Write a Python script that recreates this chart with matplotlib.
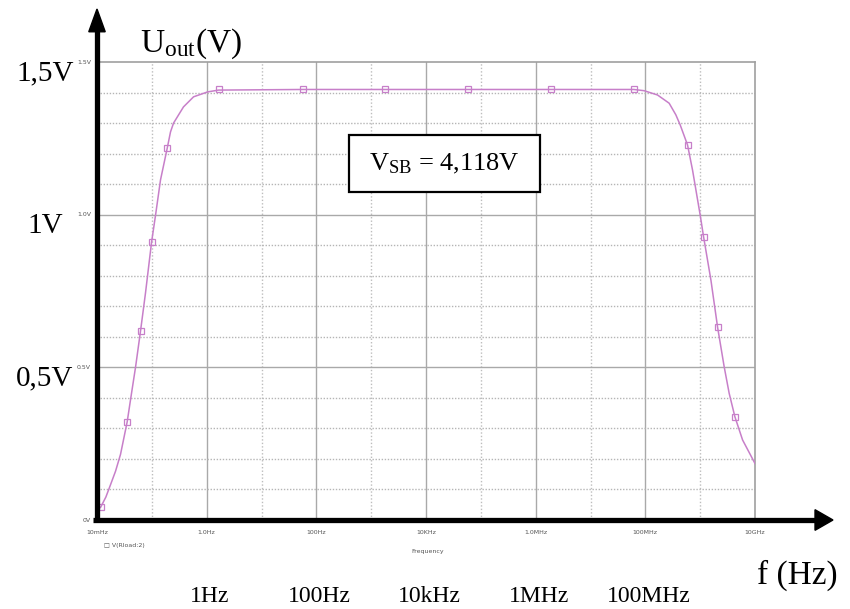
import matplotlib
matplotlib.use("Agg")
import matplotlib.pyplot as plt
from matplotlib.lines import Line2D
from matplotlib.patches import Polygon, Rectangle
from matplotlib.ticker import NullLocator

plt.rcParams["mathtext.fontset"] = "custom"
plt.rcParams["mathtext.rm"] = "Liberation Serif"
plt.rcParams["mathtext.it"] = "Liberation Serif:italic"

# --- data -------------------------------------------------------------------
freq_hz = [0.01, 0.01159, 0.0145, 0.0176, 0.0218, 0.02685, 0.03556, 0.0408,
           0.0505, 0.0622, 0.0767, 0.0989, 0.117, 0.144, 0.191, 0.219, 0.249,
           0.378, 0.577, 1.04, 1.648, 56.2, 1762, 57680, 1.888e6, 6.18e7,
           9.5e7, 1.667e8, 2.72e8, 3.6e8, 4.32e8, 5.89e8, 7.26e8, 1.0e9,
           1.153e9, 1.57e9, 2.08e9, 2.74e9, 3.38e9, 4.30e9, 5.94e9, 1.0e10]
u_out = [0.035, 0.041, 0.075, 0.115, 0.16, 0.215, 0.322, 0.393,
         0.501, 0.619, 0.744, 0.91, 0.999, 1.114, 1.218, 1.271, 1.300,
         1.353, 1.386, 1.402, 1.408, 1.41, 1.41, 1.41, 1.41, 1.41,
         1.406, 1.392, 1.365, 1.327, 1.294, 1.228, 1.146, 0.999,
         0.928, 0.786, 0.631, 0.502, 0.415, 0.338, 0.262, 0.185]

marker_freq = [0.01159, 0.03556, 0.0622, 0.0989, 0.191, 1.648, 56.2, 1762,
               57680, 1.888e6, 6.18e7, 5.89e8, 1.153e9, 2.08e9, 4.30e9]
marker_u = [0.041, 0.322, 0.619, 0.91, 1.218, 1.41, 1.41, 1.41,
            1.41, 1.41, 1.41, 1.228, 0.928, 0.631, 0.338]

grid_x_major = [1, 1e2, 1e4, 1e6, 1e8]
grid_x_minor = [1e-1, 1e1, 1e3, 1e5, 1e7, 1e9]
grid_y_major = [0.5, 1.0]
grid_y_minor = [0.1, 0.2, 0.3, 0.4, 0.6, 0.7, 0.8, 0.9, 1.1, 1.2, 1.3, 1.4]

pspice_xticks = [1e-2, 1, 1e2, 1e4, 1e6, 1e8, 1e10]
pspice_xlabels = ["10mHz", "1.0Hz", "100Hz", "10KHz", "1.0MHz", "100MHz", "10GHz"]
pspice_yticks = [0, 0.5, 1.0, 1.5]
pspice_ylabels = ["0V", "0.5V", "1.0V", "1.5V"]

big_yticks = [0.5, 1.0, 1.5]
big_ylabels = ["0,5V", "1V", "1,5V"]
big_xticks = [1, 1e2, 1e4, 1e6, 1e8]
big_xlabels = ["1Hz", "100Hz", "10kHz", "1MHz", "100MHz"]

# --- figure -----------------------------------------------------------------
W, H = 850, 609
fig = plt.figure(figsize=(W / 100, H / 100), dpi=100)
ax = fig.add_axes([97 / W, 1 - 520 / H, 658 / W, 458 / H])

trace = "#c77fc9"
ax.plot(freq_hz, u_out, color=trace, lw=1.1, zorder=3)
ax.plot(marker_freq, marker_u, "s", mfc="none", mec=trace, ms=4, mew=0.9, zorder=4)

ax.set_xscale("log")
ax.set_xlim(1e-2, 1e10)
ax.set_ylim(0, 1.5)
ax.xaxis.set_major_locator(NullLocator())
ax.xaxis.set_minor_locator(NullLocator())
ax.yaxis.set_major_locator(NullLocator())

for v in grid_x_major:
    ax.axvline(v, color="#a9a9a9", lw=1.0, zorder=1)
for v in grid_x_minor:
    ax.axvline(v, color="#bdbdbd", lw=1.0, ls=(0, (1, 1.5)), zorder=1)
for v in grid_y_major:
    ax.axhline(v, color="#a9a9a9", lw=1.0, zorder=1)
for v in grid_y_minor:
    ax.axhline(v, color="#b5b5b5", lw=1.0, ls=(0, (1, 1.2)), zorder=1)

for side in ("left", "bottom"):
    ax.spines[side].set_visible(False)
for side in ("top", "right"):
    ax.spines[side].set_color("#a0a0a0")
    ax.spines[side].set_linewidth(1.2)

# thick black axes with arrow heads
ax.add_line(Line2D([0, 0], [0, 1.07], transform=ax.transAxes, color="k",
                   lw=3.8, clip_on=False, zorder=6, solid_capstyle="butt"))
ax.add_line(Line2D([-0.006, 1.095], [0, 0], transform=ax.transAxes, color="k",
                   lw=3.8, clip_on=False, zorder=6, solid_capstyle="butt"))
ax.add_patch(Polygon([[-0.0125, 1.066], [0.0125, 1.066], [0, 1.1157]],
                     closed=True, transform=ax.transAxes, color="k",
                     clip_on=False, zorder=6))
ax.add_patch(Polygon([[1.0912, 0.0225], [1.0912, -0.0225], [1.1185, 0]],
                     closed=True, transform=ax.transAxes, color="k",
                     clip_on=False, zorder=6))

# tiny PSpice labels
for v, t in zip(pspice_xticks, pspice_xlabels):
    ax.annotate(t, xy=(v, 0), xycoords=("data", "axes fraction"),
                xytext=(0, -12), textcoords="offset pixels", ha="center",
                va="center", fontsize=4.5, color="#555555")
for v, t in zip(pspice_yticks, pspice_ylabels):
    ax.annotate(t, xy=(0, v), xycoords=("axes fraction", "data"),
                xytext=(-6, 0), textcoords="offset pixels", ha="right",
                va="center", fontsize=4.5, color="#555555")
fig.text(104 / W, 1 - 545 / H, "\u25a1 V(Rload:2)", fontsize=4.5,
         color="#555555", va="center")
fig.text(428 / W, 1 - 552 / H, "Frequency", fontsize=4.5, color="#555555",
         ha="center", va="center")

# big hand-made labels
serif = "Liberation Serif"
for v, t in zip(big_yticks, big_ylabels):
    ax.annotate(t, xy=(0, v), xycoords=("axes fraction", "data"),
                xytext=(-52, -11), textcoords="offset pixels", ha="center",
                va="center", fontsize=21, family=serif)
for v, t in zip(big_xticks, big_xlabels):
    ax.annotate(t, xy=(v, 0), xycoords=("data", "axes fraction"),
                xytext=(3, -76), textcoords="offset pixels", ha="center",
                va="center", fontsize=17, family=serif)

fig.text(140 / W, 1 - 44 / H, r"U$_{\mathrm{out}}$(V)", fontsize=24,
         family=serif, va="center")
fig.text(757 / W, 1 - 575 / H, "f (Hz)", fontsize=24, family=serif,
         va="center")

# V_SB box
ax.add_patch(Rectangle((0.383, 0.716), 0.29, 0.1246, transform=ax.transAxes,
                       fill=True, facecolor="white", edgecolor="k", lw=1.6,
                       zorder=5))
ax.text(0.528, 0.778, r"V$_{\mathrm{SB}}$ = 4,118V", transform=ax.transAxes,
        ha="center", va="center", fontsize=19, family=serif, zorder=6)

fig.savefig("out.png", dpi=100, facecolor="white")
